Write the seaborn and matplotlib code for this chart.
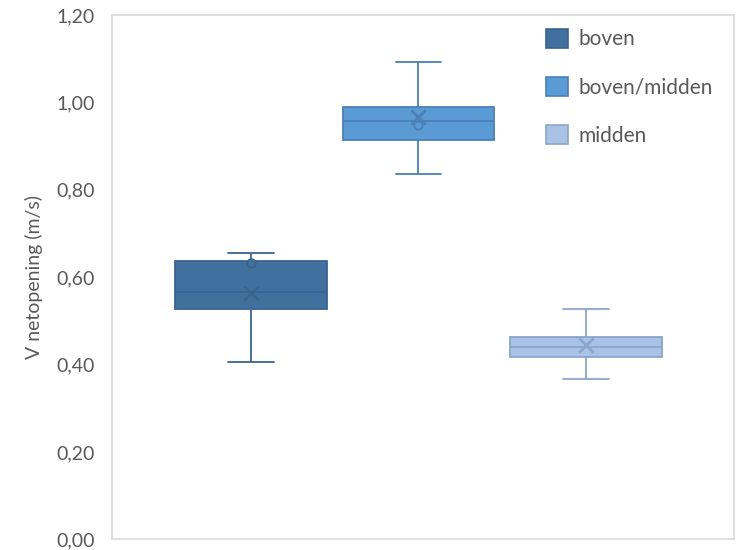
import pandas as pd
import matplotlib
matplotlib.use("Agg")
import matplotlib.pyplot as plt
import seaborn as sns
from matplotlib.patches import Patch
from matplotlib.ticker import FuncFormatter

# Five-number summaries: min, Q1, median, Q3, max
groepen = ['boven', 'boven/midden', 'midden']
boven = [0.407, 0.527, 0.567, 0.638, 0.655]
boven_midden = [0.836, 0.914, 0.958, 0.990, 1.092]
midden = [0.367, 0.418, 0.441, 0.463, 0.527]
gemiddelden = [0.565, 0.967, 0.445]   # the X markers
losse_punten = [0.632, 0.948, None]   # the small circles

vulkleuren = ['#41709F', '#5B9BD5', '#A9C2E6']
lijnkleuren = ['#3A6490', '#4A80B6', '#8CA6CB']
tekstkleur = '#595959'

df = pd.DataFrame({
    'groep': ['boven'] * 5 + ['boven/midden'] * 5 + ['midden'] * 5,
    'v': boven + boven_midden + midden,
})

sns.set_style('white')
plt.rcParams['font.family'] = ['Lato', 'DejaVu Sans']

fig = plt.figure(figsize=(7.42, 5.5), dpi=100)
ax = fig.add_axes([0.1505, 0.0191, 0.8387, 0.9536])

for i, g in enumerate(groepen):
    sub = df[df['groep'] == g]
    sns.boxplot(data=sub, x='groep', y='v', order=groepen, ax=ax,
                color=vulkleuren[i], linecolor=lijnkleuren[i], saturation=1,
                whis=(0, 100), width=0.907, showfliers=False, linewidth=1.3,
                capwidths=0.27)
    ax.scatter(i, gemiddelden[i], marker='x', s=110, linewidths=2,
               color=lijnkleuren[i], zorder=5)
    if losse_punten[i] is not None:
        ax.scatter(i, losse_punten[i], marker='o', s=36, linewidths=1.4,
                   facecolor=vulkleuren[i], edgecolor=lijnkleuren[i], zorder=5)

ax.set_xlim(-0.832, 2.884)
ax.set_ylim(0, 1.2)
ax.set_yticks([0, 0.2, 0.4, 0.6, 0.8, 1.0, 1.2])
ax.yaxis.set_major_formatter(FuncFormatter(lambda v, p: f'{v:.2f}'.replace('.', ',')))
ax.set_xticks([])
ax.set_xlabel('')
ax.set_ylabel('V netopening (m/s)', fontsize=14, color=tekstkleur, labelpad=10)
ax.tick_params(axis='y', length=0, pad=12, labelsize=14, labelcolor=tekstkleur)

for s in ax.spines.values():
    s.set_visible(True)
    s.set_color('#D9D9D9')
    s.set_linewidth(1.2)

handles = [Patch(facecolor=vulkleuren[i], edgecolor=lijnkleuren[i], linewidth=1.2, label=g)
           for i, g in enumerate(groepen)]
leg = ax.legend(handles=handles, loc='upper left', bbox_to_anchor=(0.665, 1.014),
                frameon=False, fontsize=15, handlelength=1.05, handleheight=1.05,
                labelspacing=1.32, handletextpad=0.5, borderaxespad=0.6)
for t in leg.get_texts():
    t.set_color(tekstkleur)

fig.savefig('out.png', dpi=100)
